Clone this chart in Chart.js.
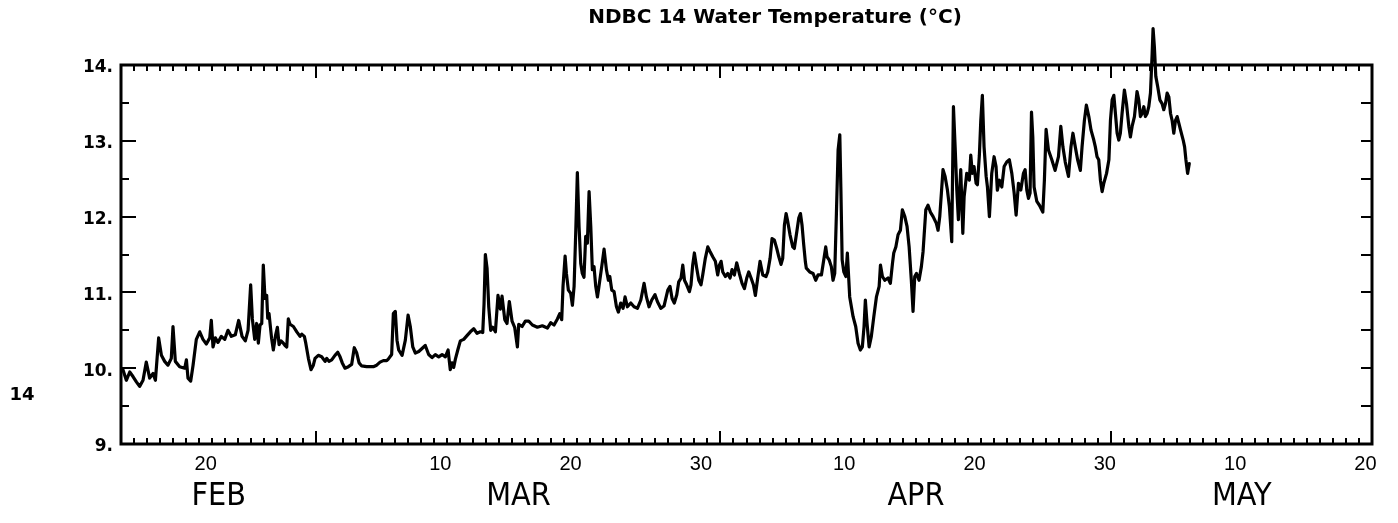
<!DOCTYPE html>
<html>
<head>
<meta charset="utf-8">
<title>NDBC 14 Water Temperature</title>
<script src="https://cdn.jsdelivr.net/npm/chart.js@4.4.1/dist/chart.umd.min.js"></script>
<style>
  html, body { margin: 0; padding: 0; background: #ffffff; }
  canvas { display: block; }
</style>
</head>
<body>
<canvas id="chart" width="1398" height="523"></canvas>
<script>
// ---- data -------------------------------------------------------------
const chartTitle = 'NDBC 14 Water Temperature (°C)';
const stationTag = '14';

// time of each reading, in days since Feb 14 00:00
const dayOffsets = [
  0.15, 0.41, 0.67, 0.92, 1.18, 1.43, 1.69, 1.94, 2.20, 2.46, 2.64, 2.89, 3.10, 3.35, 3.60, 3.86, 3.99, 4.17, 4.50, 4.89,
  5.02, 5.14, 5.35, 5.53, 5.78, 6.04, 6.29, 6.55, 6.81, 6.93, 7.06, 7.24, 7.44, 7.70, 7.96, 8.21, 8.47, 8.77, 9.03, 9.29,
  9.54, 9.75, 9.95, 10.08, 10.26, 10.41, 10.54, 10.67, 10.80, 10.92, 11.05, 11.18, 11.26, 11.36, 11.56, 11.69, 11.87, 12.00, 12.13, 12.28,
  12.46, 12.59, 12.72, 12.84, 12.97, 13.23, 13.49, 13.74, 13.87, 14.07, 14.18, 14.38, 14.58, 14.76, 14.89, 15.14, 15.40, 15.66, 15.79, 15.96,
  16.17, 16.42, 16.63, 16.81, 16.98, 17.19, 17.45, 17.70, 17.90, 18.09, 18.27, 18.47, 18.85, 19.36, 19.62, 19.88, 20.13, 20.39, 20.51, 20.77,
  20.90, 21.05, 21.18, 21.31, 21.57, 21.82, 22.03, 22.20, 22.39, 22.59, 22.85, 23.10, 23.35, 23.61, 23.87, 24.12, 24.38, 24.64, 24.89, 25.10,
  25.27, 25.40, 25.53, 25.66, 25.86, 26.04, 26.30, 26.55, 26.81, 27.07, 27.32, 27.58, 27.76, 27.86, 27.96, 28.09, 28.22, 28.37, 28.53, 28.73,
  28.93, 29.11, 29.24, 29.45, 29.62, 29.80, 30.01, 30.21, 30.42, 30.52, 30.78, 31.03, 31.29, 31.57, 31.95, 32.33, 32.72, 32.98, 33.23, 33.49,
  33.67, 33.82, 33.92, 34.08, 34.18, 34.33, 34.51, 34.64, 34.77, 34.90, 35.02, 35.15, 35.28, 35.40, 35.53, 35.66, 35.79, 35.92, 36.05, 36.17,
  36.30, 36.43, 36.56, 36.68, 36.89, 37.07, 37.25, 37.40, 37.51, 37.66, 37.84, 38.02, 38.17, 38.35, 38.53, 38.68, 38.86, 39.12, 39.37, 39.63,
  39.89, 40.14, 40.32, 40.52, 40.73, 40.98, 41.16, 41.42, 41.67, 41.96, 42.13, 42.29, 42.46, 42.65, 42.80, 42.98, 43.11, 43.24, 43.41, 43.62,
  43.74, 43.87, 44.00, 44.18, 44.34, 44.51, 44.64, 44.84, 45.03, 45.20, 45.41, 45.61, 45.79, 45.92, 46.05, 46.18, 46.38, 46.56, 46.74, 46.89,
  47.07, 47.25, 47.45, 47.66, 47.84, 48.02, 48.17, 48.35, 48.53, 48.68, 48.86, 49.04, 49.25, 49.50, 49.63, 49.81, 49.96, 50.14, 50.32, 50.48,
  50.65, 50.78, 50.91, 51.04, 51.17, 51.34, 51.55, 51.67, 51.86, 52.01, 52.14, 52.26, 52.39, 52.52, 52.59, 52.85, 53.11, 53.31, 53.49, 53.75,
  53.93, 54.08, 54.18, 54.34, 54.51, 54.64, 54.77, 54.90, 55.03, 55.16, 55.24, 55.34, 55.47, 55.62, 55.74, 55.92, 56.18, 56.38, 56.56, 56.74,
  56.89, 57.02, 57.12, 57.25, 57.41, 57.58, 57.77, 57.97, 58.18, 58.28, 58.43, 58.61, 58.86, 59.04, 59.20, 59.30, 59.46, 59.63, 59.81, 59.96,
  60.15, 60.32, 60.48, 60.65, 60.78, 60.91, 61.04, 61.24, 61.42, 61.55, 61.76, 61.93, 62.11, 62.32, 62.57, 62.70, 62.83, 63.08, 63.24, 63.42,
  63.57, 63.75, 63.88, 64.01, 64.14, 64.26, 64.44, 64.60, 64.70, 64.90, 65.10, 65.21, 65.33, 65.46, 65.62, 65.72, 65.87, 65.98, 66.10, 66.23,
  66.39, 66.49, 66.64, 66.82, 67.00, 67.15, 67.25, 67.41, 67.59, 67.77, 67.97, 68.17, 68.36, 68.54, 68.69, 68.87, 69.05, 69.25, 69.38, 69.51,
  69.64, 69.76, 69.87, 69.97, 70.07, 70.28, 70.48, 70.74, 70.86, 70.99, 71.17, 71.43, 71.68, 71.94, 72.12, 72.28, 72.46, 72.71, 72.90, 73.05,
  73.23, 73.41, 73.62, 73.75, 73.93, 74.08, 74.27, 74.44, 74.65, 74.77, 74.90, 75.03, 75.16, 75.29, 75.42, 75.63, 75.81, 75.93, 76.06, 76.19,
  76.31, 76.44, 76.57, 76.69, 76.82, 77.00, 77.16, 77.34, 77.46, 77.59, 77.77, 77.97, 78.10, 78.23, 78.36, 78.49, 78.61, 78.74, 78.87, 79.00,
  79.13, 79.20, 79.30, 79.41, 79.56, 79.72, 79.89, 80.02, 80.15, 80.28, 80.41, 80.54, 80.66, 80.79, 80.92, 81.05, 81.18, 81.31, 81.51, 81.62,
  81.72, 81.85, 81.98
];

// water temperature (°C) at each reading
const waterTempC = [
  9.98, 9.84, 9.95, 9.89, 9.82, 9.76, 9.84, 10.08, 9.87, 9.93, 9.84, 10.40, 10.17, 10.09, 10.04, 10.13, 10.55, 10.09, 10.02, 10.00,
  10.11, 9.87, 9.83, 10.04, 10.38, 10.48, 10.38, 10.32, 10.40, 10.63, 10.28, 10.40, 10.34, 10.42, 10.38, 10.50, 10.42, 10.44, 10.63, 10.42,
  10.36, 10.50, 11.10, 10.65, 10.38, 10.59, 10.33, 10.57, 10.59, 11.36, 10.92, 10.96, 10.66, 10.72, 10.39, 10.24, 10.44, 10.54, 10.31, 10.36,
  10.33, 10.30, 10.28, 10.65, 10.58, 10.55, 10.48, 10.42, 10.45, 10.42, 10.33, 10.13, 9.98, 10.04, 10.13, 10.17, 10.15, 10.09, 10.13, 10.09,
  10.11, 10.17, 10.21, 10.15, 10.07, 10.00, 10.02, 10.05, 10.27, 10.20, 10.07, 10.03, 10.02, 10.02, 10.04, 10.08, 10.10, 10.10, 10.12, 10.18,
  10.72, 10.75, 10.37, 10.24, 10.17, 10.37, 10.70, 10.55, 10.28, 10.20, 10.22, 10.26, 10.30, 10.18, 10.14, 10.18, 10.15, 10.18, 10.15, 10.24,
  9.98, 10.07, 10.01, 10.12, 10.25, 10.36, 10.38, 10.43, 10.48, 10.52, 10.46, 10.48, 10.47, 10.85, 11.50, 11.32, 10.81, 10.50, 10.54, 10.48,
  10.96, 10.78, 10.95, 10.64, 10.59, 10.88, 10.62, 10.54, 10.28, 10.58, 10.55, 10.62, 10.62, 10.57, 10.54, 10.56, 10.53, 10.60, 10.57, 10.65,
  10.72, 10.64, 11.08, 11.48, 11.25, 11.03, 10.99, 10.83, 11.08, 11.82, 12.58, 11.87, 11.38, 11.25, 11.20, 11.74, 11.65, 12.33, 11.87, 11.30,
  11.34, 11.08, 10.94, 11.08, 11.34, 11.57, 11.30, 11.16, 11.21, 11.03, 11.01, 10.81, 10.74, 10.86, 10.79, 10.94, 10.81, 10.86, 10.81, 10.79,
  10.90, 11.12, 10.94, 10.81, 10.90, 10.97, 10.88, 10.79, 10.82, 11.03, 11.08, 10.92, 10.86, 10.97, 11.14, 11.19, 11.36, 11.16, 11.10, 11.01,
  11.10, 11.36, 11.52, 11.32, 11.16, 11.10, 11.23, 11.45, 11.60, 11.54, 11.47, 11.41, 11.23, 11.36, 11.41, 11.27, 11.21, 11.25, 11.19, 11.30,
  11.23, 11.39, 11.25, 11.12, 11.05, 11.19, 11.27, 11.19, 11.10, 10.96, 11.19, 11.41, 11.23, 11.21, 11.27, 11.45, 11.71, 11.69, 11.58, 11.47,
  11.37, 11.45, 11.89, 12.04, 11.93, 11.76, 11.60, 11.58, 11.80, 11.98, 12.04, 11.89, 11.63, 11.40, 11.32, 11.27, 11.25, 11.16, 11.23, 11.23,
  11.43, 11.60, 11.47, 11.43, 11.34, 11.16, 11.25, 12.04, 12.88, 13.08, 12.39, 11.43, 11.27, 11.21, 11.52, 10.94, 10.68, 10.55, 10.33, 10.24,
  10.28, 10.55, 10.90, 10.59, 10.28, 10.42, 10.68, 10.94, 11.08, 11.36, 11.21, 11.16, 11.19, 11.12, 11.38, 11.52, 11.60, 11.76, 11.82, 12.09,
  12.00, 11.87, 11.60, 11.16, 10.75, 11.21, 11.25, 11.16, 11.34, 11.54, 12.09, 12.15, 12.06, 12.00, 11.91, 11.82, 12.00, 12.62, 12.53, 12.35,
  12.13, 11.67, 13.45, 12.92, 12.35, 11.96, 12.62, 11.78, 12.26, 12.57, 12.48, 12.81, 12.57, 12.66, 12.44, 12.42, 12.81, 13.27, 13.60, 12.92,
  12.53, 12.39, 12.00, 12.57, 12.79, 12.66, 12.35, 12.48, 12.39, 12.66, 12.72, 12.75, 12.57, 12.31, 12.02, 12.44, 12.35, 12.57, 12.62, 12.35,
  12.24, 12.31, 13.38, 13.05, 12.39, 12.20, 12.15, 12.06, 12.48, 13.15, 12.88, 12.75, 12.61, 12.79, 13.19, 12.92, 12.72, 12.53, 12.92, 13.10,
  12.92, 12.75, 12.61, 12.92, 13.27, 13.47, 13.32, 13.14, 13.01, 12.92, 12.79, 12.75, 12.48, 12.33, 12.44, 12.57, 12.75, 13.27, 13.54, 13.60,
  13.36, 13.10, 13.01, 13.10, 13.36, 13.67, 13.49, 13.19, 13.05, 13.19, 13.32, 13.65, 13.54, 13.32, 13.36, 13.45, 13.32, 13.36, 13.45, 13.63,
  14.15, 14.48, 14.24, 13.85, 13.71, 13.54, 13.49, 13.41, 13.49, 13.63, 13.58, 13.36, 13.27, 13.10, 13.27, 13.32, 13.23, 13.14, 13.01, 12.92,
  12.75, 12.57, 12.70
];

// axis annotation (all positions in days since Feb 14)
const dayTickOffsets = [6.5, 24.5, 34.5, 44.5, 55.5, 65.5, 75.5, 85.5, 95.5];
const dayTickLabels  = ['20', '10', '20', '30', '10', '20', '30', '10', '20'];
const monthStartOffsets = [0, 15, 46, 76, 96];   // Feb 14, Mar 1, Apr 1, May 1, May 21
const monthNames = ['FEB', 'MAR', 'APR', 'MAY'];
const tempMin = 9;
const tempMax = 14;

// ---- chart ------------------------------------------------------------
const monthCenters = monthNames.map((_, i) => (monthStartOffsets[i] + monthStartOffsets[i + 1]) / 2);
const dayMin = monthStartOffsets[0];
const dayMax = monthStartOffsets[monthStartOffsets.length - 1];

// frame with inward tick marks on all four sides, plus the header text
const plotFrame = {
  id: 'plotFrame',
  beforeDatasetsDraw(chart) {
    const { ctx, chartArea: a, scales } = chart;
    const xs = scales.x, ys = scales.y;
    ctx.save();
    ctx.strokeStyle = '#000';
    ctx.lineCap = 'butt';

    // day ticks along top and bottom; month starts get long ticks
    ctx.lineWidth = 2;
    ctx.beginPath();
    for (let d = dayMin; d <= dayMax; d++) {
      const px = Math.round(xs.getPixelForValue(d));
      const len = monthStartOffsets.includes(d) ? 13 : 6;
      ctx.moveTo(px, a.bottom); ctx.lineTo(px, a.bottom - len);
      ctx.moveTo(px, a.top);    ctx.lineTo(px, a.top + len);
    }
    // temperature ticks on the left (long on whole degrees) and right
    for (let v = tempMin; v <= tempMax; v += 0.5) {
      const py = Math.round(ys.getPixelForValue(v));
      const whole = Number.isInteger(v);
      ctx.moveTo(a.left, py);  ctx.lineTo(a.left + (whole ? 15 : 8), py);
      ctx.moveTo(a.right, py); ctx.lineTo(a.right - 11, py);
    }
    ctx.stroke();

    ctx.lineWidth = 3;
    ctx.strokeRect(a.left, a.top, a.right - a.left, a.bottom - a.top);
    ctx.restore();
  },
  afterDraw(chart) {
    const { ctx } = chart;
    ctx.save();
    ctx.fillStyle = '#000';
    ctx.textBaseline = 'middle';
    ctx.textAlign = 'center';
    ctx.font = 'bold 20px "DejaVu Sans", sans-serif';
    ctx.fillText(chartTitle, 775, 18);
    ctx.font = 'bold 18px "DejaVu Sans", sans-serif';
    ctx.fillText(stationTag, 22, 395);
    ctx.restore();
  }
};

new Chart(document.getElementById('chart'), {
  type: 'line',
  data: {
    datasets: [{
      data: dayOffsets.map((d, i) => ({ x: d, y: waterTempC[i] })),
      borderColor: '#000',
      borderWidth: 3.2,
      borderJoinStyle: 'round',
      borderCapStyle: 'round',
      pointRadius: 0,
      tension: 0,
      fill: false,
      clip: false
    }]
  },
  options: {
    responsive: false,
    animation: false,
    devicePixelRatio: 1,
    layout: { padding: { left: 0, right: 26, top: 65, bottom: 0 } },
    plugins: {
      legend: { display: false },
      tooltip: { enabled: false },
      title: { display: false }
    },
    scales: {
      x: {
        type: 'linear',
        position: 'bottom',
        weight: 0,
        min: dayMin,
        max: dayMax,
        grid: { display: false, drawTicks: false },
        border: { display: false },
        afterBuildTicks: s => { s.ticks = dayTickOffsets.map(v => ({ value: v })); },
        afterFit: s => { s.height = 34; },
        ticks: {
          autoSkip: false,
          maxRotation: 0,
          padding: 8,
          color: '#000',
          font: { family: '"Liberation Sans", Arial, sans-serif', size: 20 },
          callback: (v, i) => dayTickLabels[i]
        }
      },
      months: {
        type: 'linear',
        position: 'bottom',
        axis: 'x',
        weight: 1,
        min: dayMin,
        max: dayMax,
        grid: { display: false, drawTicks: false },
        border: { display: false },
        afterBuildTicks: s => { s.ticks = monthCenters.map(v => ({ value: v })); },
        afterFit: s => { s.height = 45; },
        ticks: {
          autoSkip: false,
          maxRotation: 0,
          padding: 3,
          color: '#000',
          font: { family: '"DejaVu Sans Condensed", "Liberation Sans", Arial, sans-serif', size: 32, lineHeight: 1 },
          callback: (v, i) => monthNames[i]
        }
      },
      y: {
        type: 'linear',
        position: 'left',
        min: tempMin,
        max: tempMax,
        grid: { display: false, drawTicks: false },
        border: { display: false },
        afterFit: s => { s.width = 121; },
        ticks: {
          stepSize: 1,
          padding: 8,
          labelOffset: 3,
          color: '#000',
          font: { family: '"DejaVu Sans", sans-serif', size: 17, weight: 'bold' },
          callback: v => v.toFixed(0) + '.'
        }
      }
    }
  },
  plugins: [plotFrame]
});
</script>
</body>
</html>
